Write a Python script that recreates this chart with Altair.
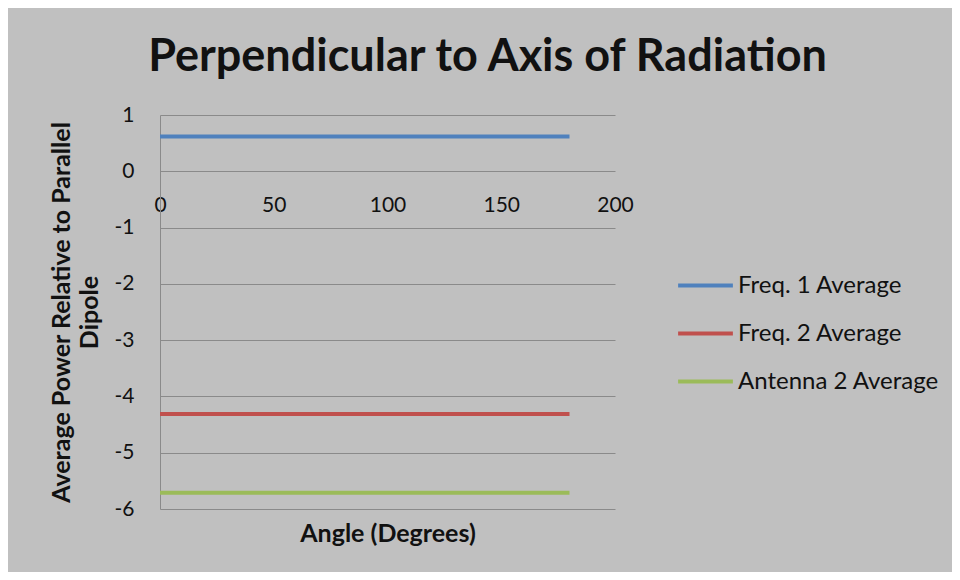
import altair as alt
import pandas as pd

# ---- data ----
angles = [0, 180]
freq1_avg = [0.62, 0.62]
freq2_avg = [-4.31, -4.31]
antenna2_avg = [-5.71, -5.71]
series_names = ["Freq. 1 Average", "Freq. 2 Average", "Antenna 2 Average"]
series_colors = ["#4F81BD", "#C0504D", "#9BBB59"]
x_ticks = [0, 50, 100, 150, 200]
y_ticks = [-6, -5, -4, -3, -2, -1, 0, 1]

rows = []
for name, vals in zip(series_names, [freq1_avg, freq2_avg, antenna2_avg]):
    for a, v in zip(angles, vals):
        rows.append({"Angle": a, "Power": v, "Series": name})
df = pd.DataFrame(rows)

FONT = "Lato"
W, H = 455, 394
zero_from_bottom = H * 6 / 7  # pixel distance of y=0 above the bottom edge

x_axis = alt.Axis(
    values=x_ticks,
    orient="bottom",
    offset=-zero_from_bottom,
    grid=False,
    ticks=False,
    domain=False,
    labelFlush=False,
    labelFont=FONT,
    labelFontSize=21,
    labelColor="#111111",
    labelPadding=23,
    title="Angle (Degrees)",
    titleFont=FONT,
    titleFontSize=25,
    titleFontWeight="bold",
    titleColor="#111111",
    titleY=zero_from_bottom + 12,
    titleX=W / 2,
)

y_axis = alt.Axis(
    values=y_ticks,
    labelExpr="datum.value + ''",
    grid=True,
    gridColor="#8a8a8a",
    gridWidth=1,
    ticks=False,
    domain=True,
    domainColor="#8a8a8a",
    domainWidth=1,
    labelFont=FONT,
    labelFontSize=21,
    labelColor="#111111",
    labelPadding=26,
    title=["Average Power Relative to Parallel", "Dipole"],
    titleFont=FONT,
    titleFontSize=25,
    titleFontWeight="bold",
    titleColor="#111111",
    titleLineHeight=28,
    titlePadding=12,
)

chart = (
    alt.Chart(df)
    .mark_line(strokeWidth=4)
    .encode(
        x=alt.X("Angle:Q", scale=alt.Scale(domain=[0, 200], nice=False), axis=x_axis),
        y=alt.Y("Power:Q", scale=alt.Scale(domain=[-6, 1], nice=False), axis=y_axis),
        color=alt.Color(
            "Series:N",
            sort=series_names,
            scale=alt.Scale(domain=series_names, range=series_colors),
            legend=alt.Legend(
                orient="none",
                legendX=516,
                legendY=141,
                title=None,
                symbolType="stroke",
                symbolSize=3000,
                symbolStrokeWidth=4,
                labelFont=FONT,
                labelFontSize=24,
                labelColor="#111111",
                labelOffset=3,
                labelLimit=400,
                rowPadding=6,
            ),
        ),
    )
    .properties(
        width=W,
        height=H,
        autosize=alt.AutoSizeParams(type="none"),
        padding={"left": 152, "top": 107, "right": 337, "bottom": 63},
        title=alt.Title(
            "Perpendicular to Axis of Radiation",
            font=FONT,
            fontSize=45,
            fontWeight="bold",
            color="#111111",
            anchor="middle",
            dx=100,
            offset=24,
        ),
    )
    .configure(background="#c0c0c0")
    .configure_view(stroke=None)
)

chart.save("out.html", embed_options={"renderer": "svg", "actions": False})
